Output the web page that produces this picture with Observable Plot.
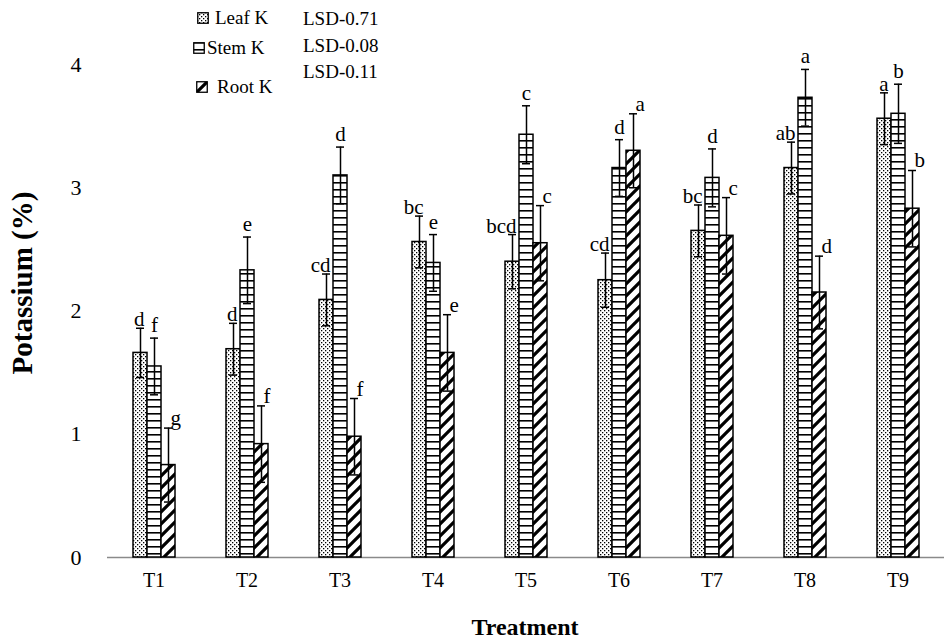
<!DOCTYPE html>
<html><head><meta charset="utf-8">
<script src="https://cdn.jsdelivr.net/npm/d3@7"></script>
<script src="https://cdn.jsdelivr.net/npm/@observablehq/plot@0.6"></script>
<style>
body{margin:0;background:#fff;}
#wrap{position:relative;width:948px;height:641px;font-family:"Liberation Serif","Times New Roman",serif;color:#000;overflow:hidden;}
.t{position:absolute;white-space:nowrap;font-size:19px;line-height:1;font-family:"Liberation Serif","Times New Roman",serif;}
.b{font-weight:bold;font-size:24px;}
.by{font-weight:bold;font-size:29px;}
</style></head><body>
<svg width="0" height="0" style="position:absolute">
<defs>
<pattern id="pLeaf" patternUnits="userSpaceOnUse" width="4" height="4"><rect width="4" height="4" fill="#fff"/><rect x="0" y="0" width="1.3" height="1.3" fill="#000"/><rect x="2" y="2" width="1.3" height="1.3" fill="#000"/></pattern>
<pattern id="pStem" patternUnits="userSpaceOnUse" width="7" height="7"><rect width="7" height="7" fill="#fff"/><rect x="0" y="0" width="7" height="1.6" fill="#000"/></pattern>
<pattern id="pRoot" patternUnits="userSpaceOnUse" width="12" height="12"><rect width="12" height="12" fill="#fff"/><path d="M-1,13 L13,-1 M-3,3 L3,-3 M9,15 L15,9" stroke="#000" stroke-width="3.2"/></pattern>
</defs></svg>
<div id="wrap"></div>
<script>
const treatments = ["T1","T2","T3","T4","T5","T6","T7","T8","T9"];
const parts = ["Leaf K","Stem K","Root K"];
const leafK = [1.66,1.69,2.09,2.56,2.40,2.25,2.65,3.16,3.56];
const stemK = [1.55,2.33,3.10,2.39,3.43,3.16,3.08,3.73,3.60];
const rootK = [0.75,0.92,0.98,1.66,2.55,3.30,2.61,2.15,2.83];
const leafSE = [0.20,0.21,0.21,0.21,0.22,0.22,0.21,0.21,0.21];
const stemSE = [0.23,0.27,0.23,0.23,0.235,0.23,0.235,0.23,0.24];
const rootSE = [0.30,0.31,0.31,0.31,0.305,0.30,0.31,0.295,0.31];
const leafLetters = ["d","d","cd","bc","bcd","cd","bc","ab","a"];
const stemLetters = ["f","e","d","e","c","d","d","a","b"];
const rootLetters = ["g","f","f","e","c","a","c","d","b"];
const lsdLabels = ["LSD-0.71","LSD-0.08","LSD-0.11"];
const yTicks = [0,1,2,3,4];
const yTitle = "Potassium (%)";
const xTitle = "Treatment";

const values = [leafK, stemK, rootK];
const ses = [leafSE, stemSE, rootSE];
const letters = [leafLetters, stemLetters, rootLetters];
const fills = {"Leaf K":"url(#pLeaf)","Stem K":"url(#pStem)","Root K":"url(#pRoot)"};

const rows = treatments.flatMap((t,i) => parts.map((p,k) => ({
  treatment: t, part: p, value: values[k][i], se: ses[k][i], letter: letters[k][i]
})));
const byPart = p => rows.filter(d => d.part === p);

const chart = Plot.plot({
  width: 948, height: 641,
  marginTop: 64, marginBottom: 84, marginLeft: 106, marginRight: 3,
  style: {fontFamily: '"Liberation Serif","Times New Roman",serif', fontSize: "20px", background: "#fff", color: "#000"},
  fx: {domain: treatments, padding: 0, label: null},
  x: {domain: parts, paddingInner: 0, paddingOuter: 1.82, axis: null},
  y: {domain: [0,4]},
  marks: [
    Plot.ruleY([0], {stroke: "#8a8a8a", strokeWidth: 1.3}),
    ...parts.map(p => Plot.barY(byPart(p), {fx: "treatment", x: "part", y: "value", fill: fills[p], stroke: "#000", strokeWidth: 1.5})),
    Plot.ruleX(rows, {fx: "treatment", x: "part", y1: d => d.value - d.se, y2: d => d.value + d.se, stroke: "#000", strokeWidth: 1.5}),
    Plot.tickY(rows, {fx: "treatment", x: "part", y: d => d.value + d.se, insetLeft: 3, insetRight: 3, stroke: "#000", strokeWidth: 1.5}),
    Plot.tickY(rows, {fx: "treatment", x: "part", y: d => d.value - d.se, insetLeft: 3, insetRight: 3, stroke: "#000", strokeWidth: 1.5}),
    Plot.text(byPart("Leaf K"), {fx: "treatment", x: "part", y: d => d.value + d.se, text: "letter", textAnchor: "end", lineAnchor: "bottom", dx: 4, dy: -2, fontSize: 21}),
    Plot.text(byPart("Stem K"), {fx: "treatment", x: "part", y: d => d.value + d.se, text: "letter", textAnchor: "middle", lineAnchor: "bottom", dy: -6, fontSize: 21}),
    Plot.text(byPart("Root K"), {fx: "treatment", x: "part", y: d => d.value + d.se, text: "letter", textAnchor: "start", lineAnchor: "bottom", dx: 2, dy: -3, fontSize: 21}),
    Plot.axisY({ticks: yTicks, tickSize: 0, tickPadding: 26, tickFormat: d => String(d), label: null, line: true, stroke: "#8a8a8a", fontSize: 22}),
    Plot.axisFx({anchor: "bottom", tickSize: 0, tickPadding: 15, label: null, fontSize: 20})
  ]
});
const wrap = document.getElementById("wrap");
wrap.appendChild(chart);

function addText(txt, left, top, cls, extra) {
  const d = document.createElement("div");
  d.className = "t " + (cls || "");
  d.textContent = txt;
  d.style.left = left + "px"; d.style.top = top + "px";
  if (extra) Object.assign(d.style, extra);
  wrap.appendChild(d);
  return d;
}
// legend
const legTop = [8, 38, 77];
const legTextLeft = [215, 207, 217];
const iconLeft = [197, 193, 196];
parts.forEach((p, i) => {
  const s = document.createElementNS("http://www.w3.org/2000/svg", "svg");
  s.setAttribute("width", 12); s.setAttribute("height", 12);
  s.style.position = "absolute"; s.style.left = iconLeft[i] + "px"; s.style.top = (legTop[i] + 4) + "px";
  const r = document.createElementNS("http://www.w3.org/2000/svg", "rect");
  r.setAttribute("x", 0.75); r.setAttribute("y", 0.75); r.setAttribute("width", 10.5); r.setAttribute("height", 10.5);
  r.setAttribute("fill", fills[p]); r.setAttribute("stroke", "#000"); r.setAttribute("stroke-width", 1.3);
  s.appendChild(r); wrap.appendChild(s);
  addText(p, legTextLeft[i], legTop[i]);
});
const lsdTop = [9, 36, 62];
lsdLabels.forEach((l, i) => addText(l, 303, lsdTop[i]));
// axis titles
addText(yTitle, 22, 283, "by", {transform: "translate(-50%,-50%) rotate(-90deg)"});
addText(xTitle, 525, 627, "b", {transform: "translate(-50%,-50%)"});
</script>
</body></html>
